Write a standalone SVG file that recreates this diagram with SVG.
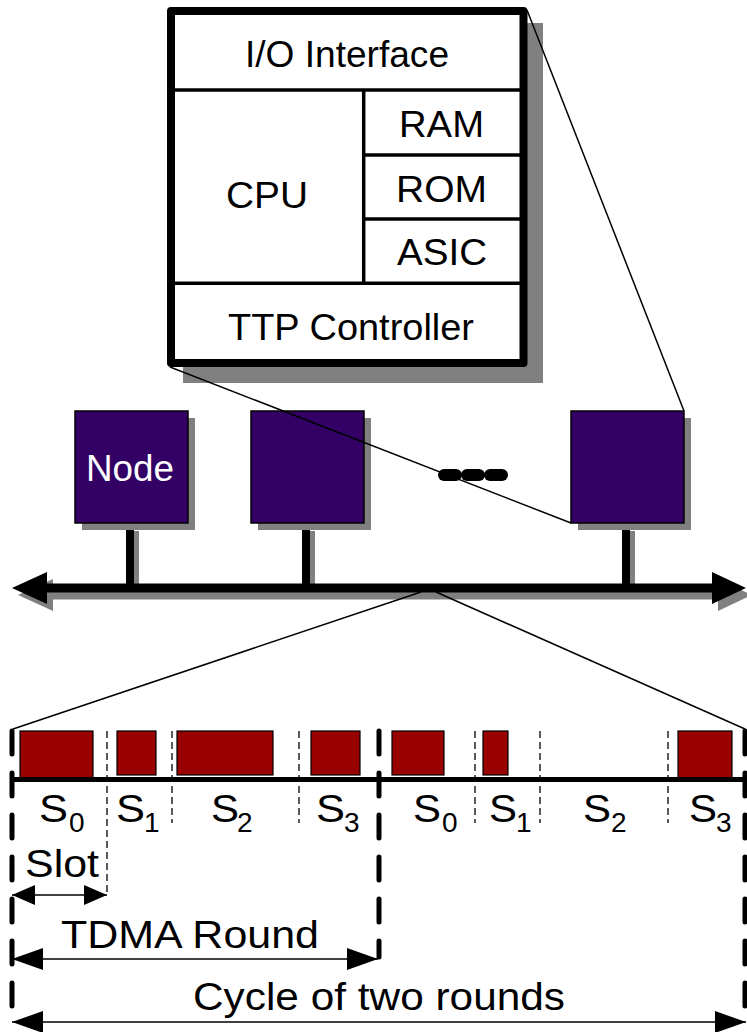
<svg xmlns="http://www.w3.org/2000/svg" width="747" height="1032" viewBox="0 0 747 1032">
<defs>
<style>
text{font-family:"Liberation Sans",Arial,sans-serif;fill:#000}
.t36{font-size:36px}
.s{font-size:38px}
.sub{font-size:28px}
.shadow{fill:#808080}
.node{fill:#330066;stroke:#000;stroke-width:1.5}
.div{stroke:#000;stroke-width:3.5}
.thin{stroke:#000;stroke-width:1.5;fill:none}
.pkt{fill:#990000;stroke:#000;stroke-width:1.2}
.thickdash{stroke:#000;stroke-width:5;stroke-dasharray:23 19;stroke-linecap:round;fill:none}
.thindash{stroke:#000;stroke-width:1.3;stroke-dasharray:7 4;fill:none}
.dim{stroke:#000;stroke-width:1.6;fill:none}
</style>
<marker id="ahS" markerUnits="userSpaceOnUse" markerWidth="23" markerHeight="20" refX="23" refY="10" orient="auto-start-reverse"><path d="M0,0 L23,10 L0,20 z" fill="#000"/></marker>
<marker id="ahL" markerUnits="userSpaceOnUse" markerWidth="31" markerHeight="22" refX="31" refY="11" orient="auto-start-reverse"><path d="M0,0 L31,11 L0,22 z" fill="#000"/></marker>
<g id="busShape"><rect x="40" y="583.5" width="675" height="9"/><polygon points="12,588 47,572 47,604"/><polygon points="746,588 712,572 712,604"/></g>
</defs>
<rect width="747" height="1032" fill="#fff"/>

<g id="ecu">
<rect class="shadow" x="183" y="23" width="360" height="360"/>
<rect x="171" y="11" width="352.5" height="352" fill="#fff" stroke="#000" stroke-width="8" stroke-linejoin="round"/>
<line class="div" x1="175" y1="90" x2="520" y2="90"/>
<line class="div" x1="363.7" y1="90" x2="363.7" y2="283.3"/>
<line class="div" x1="363.7" y1="155" x2="520" y2="155"/>
<line class="div" x1="363.7" y1="219" x2="520" y2="219"/>
<line class="div" x1="175" y1="283.3" x2="520" y2="283.3"/>
<text class="t36" x="245" y="67" textLength="204" lengthAdjust="spacingAndGlyphs">I/O Interface</text>
<text class="t36" x="226" y="208" textLength="82" lengthAdjust="spacingAndGlyphs">CPU</text>
<text class="t36" x="399" y="137" textLength="85" lengthAdjust="spacingAndGlyphs">RAM</text>
<text class="t36" x="396" y="202" textLength="91" lengthAdjust="spacingAndGlyphs">ROM</text>
<text class="t36" x="397" y="265" textLength="90" lengthAdjust="spacingAndGlyphs">ASIC</text>
<text class="t36" x="228" y="340" textLength="246" lengthAdjust="spacingAndGlyphs">TTP Controller</text>
</g>

<g id="node1">
<rect class="shadow" x="132" y="531" width="7" height="57"/>
<rect x="126" y="523" width="8" height="65" fill="#000"/>
<rect class="shadow" x="82" y="418" width="113" height="112"/>
<rect class="node" x="75" y="411" width="113" height="112"/>
<text class="t36" x="86" y="481" textLength="88" lengthAdjust="spacingAndGlyphs" style="fill:#fff">Node</text>
</g>
<g id="node2">
<rect class="shadow" x="308" y="531" width="7" height="57"/>
<rect x="302" y="523" width="8" height="65" fill="#000"/>
<rect class="shadow" x="258" y="418" width="113" height="112"/>
<rect class="node" x="251" y="411" width="113" height="112"/>
</g>
<g id="ellipsis">
<rect x="438" y="469" width="24" height="12" rx="6" fill="#000"/>
<rect x="461" y="469" width="24" height="12" rx="6" fill="#000"/>
<rect x="484" y="469" width="24" height="12" rx="6" fill="#000"/>
</g>
<g id="node3">
<rect class="shadow" x="628" y="531" width="7" height="57"/>
<rect x="622" y="523" width="8" height="65" fill="#000"/>
<rect class="shadow" x="578" y="418" width="113" height="112"/>
<rect class="node" x="571" y="411" width="113" height="112"/>
</g>

<g id="bus">
<use href="#busShape" fill="#808080" transform="translate(6,7)"/>
<use href="#busShape" fill="#000"/>
</g>

<g id="connectors">
<line class="thin" x1="527" y1="10" x2="684" y2="411"/>
<line class="thin" x1="170" y1="367" x2="571" y2="523"/>
<line class="thin" x1="421" y1="592" x2="13" y2="729"/>
<line class="thin" x1="436" y1="592" x2="745" y2="729"/>
</g>

<g id="timeline">
<rect class="pkt" x="20" y="731" width="73" height="47"/>
<rect class="pkt" x="117" y="731" width="39" height="44"/>
<rect class="pkt" x="177" y="731" width="96" height="44"/>
<rect class="pkt" x="311" y="731" width="49" height="44"/>
<rect class="pkt" x="392" y="731" width="52" height="44"/>
<rect class="pkt" x="483" y="731" width="25" height="44"/>
<rect class="pkt" x="678" y="731" width="54" height="47"/>
<line x1="12" y1="779.5" x2="746" y2="779.5" stroke="#000" stroke-width="5"/>
<line class="thindash" x1="107" y1="731" x2="107" y2="893"/>
<line class="thindash" x1="172" y1="731" x2="172" y2="823"/>
<line class="thindash" x1="299" y1="731" x2="299" y2="823"/>
<line class="thindash" x1="475" y1="731" x2="475" y2="823"/>
<line class="thindash" x1="540" y1="731" x2="540" y2="823"/>
<line class="thindash" x1="668" y1="731" x2="668" y2="823"/>
<line class="thickdash" x1="12" y1="731" x2="12" y2="1010"/>
<line class="thickdash" x1="379" y1="731" x2="379" y2="957"/>
<line class="thickdash" x1="745" y1="731" x2="745" y2="1010"/>
<line class="dim" x1="12" y1="895" x2="107" y2="895" marker-start="url(#ahS)" marker-end="url(#ahS)"/>
<line class="dim" x1="12" y1="959" x2="378" y2="959" marker-start="url(#ahL)" marker-end="url(#ahL)"/>
<line class="dim" x1="12" y1="1022" x2="746" y2="1022" marker-start="url(#ahL)" marker-end="url(#ahL)"/>
<text class="s" x="39" y="822" textLength="29" lengthAdjust="spacingAndGlyphs">S</text><text class="sub" x="69" y="832">0</text>
<text class="s" x="116" y="822" textLength="29" lengthAdjust="spacingAndGlyphs">S</text><text class="sub" x="144" y="832">1</text>
<text class="s" x="211" y="822" textLength="28" lengthAdjust="spacingAndGlyphs">S</text><text class="sub" x="237" y="832">2</text>
<text class="s" x="316" y="822" textLength="29" lengthAdjust="spacingAndGlyphs">S</text><text class="sub" x="344" y="832">3</text>
<text class="s" x="413" y="822" textLength="28" lengthAdjust="spacingAndGlyphs">S</text><text class="sub" x="442" y="832">0</text>
<text class="s" x="489" y="822" textLength="28" lengthAdjust="spacingAndGlyphs">S</text><text class="sub" x="516" y="832">1</text>
<text class="s" x="583" y="822" textLength="28" lengthAdjust="spacingAndGlyphs">S</text><text class="sub" x="611" y="832">2</text>
<text class="s" x="689" y="822" textLength="28" lengthAdjust="spacingAndGlyphs">S</text><text class="sub" x="716" y="832">3</text>
<text class="s" x="25" y="877" textLength="74" lengthAdjust="spacingAndGlyphs">Slot</text>
<text class="s" x="61" y="948" textLength="258" lengthAdjust="spacingAndGlyphs">TDMA Round</text>
<text class="s" x="193" y="1010" textLength="372" lengthAdjust="spacingAndGlyphs">Cycle of two rounds</text>
</g>
</svg>
